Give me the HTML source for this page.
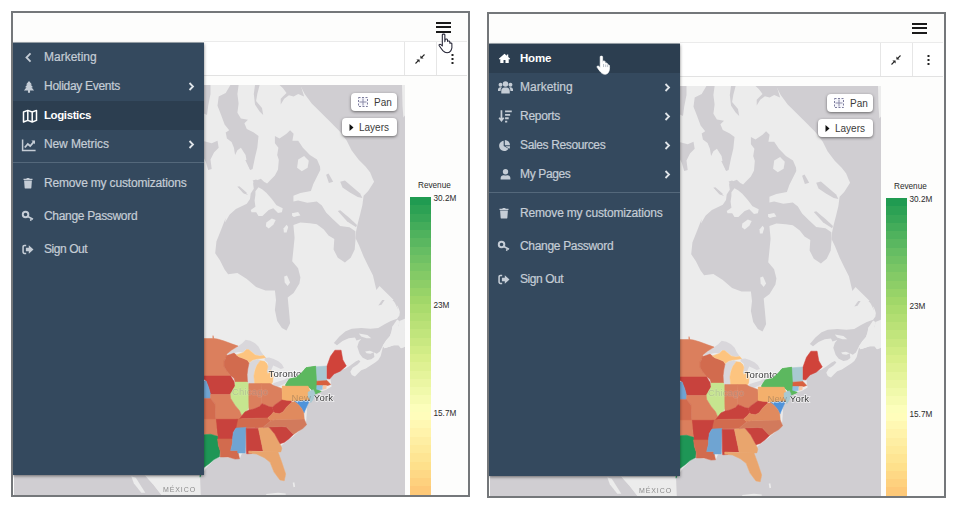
<!DOCTYPE html>
<html>
<head>
<meta charset="utf-8">
<title>Menu</title>
<style>
*{box-sizing:border-box;margin:0;padding:0}
html,body{width:961px;height:513px;background:#fff;overflow:hidden}
body{font-family:"Liberation Sans",sans-serif;position:relative}
.panel{position:absolute;width:459px;height:486px;border:2px solid #74777a;background:#fdfdfc;overflow:hidden}
#p1{left:11px;top:11px}
#p2{left:487px;top:12px}
.in{position:absolute;left:-13px;top:-13px;width:480px;height:500px}
.tb{position:absolute;left:204px;top:41px;width:263px;height:35px;border-top:1px solid #ebebeb;border-bottom:1px solid #e2e2e2;background:#fff}
.vs{position:absolute;top:42px;width:1px;height:33px;background:#e6e6e6}
.map{position:absolute;left:14px;top:85px;width:391px;height:412px;overflow:hidden;background:#cfcdd1}
.map svg{position:absolute;left:-14px;top:-85px;filter:blur(.35px)}
.side{position:absolute;left:13px;top:43px;width:191px;height:432px;background:#34495e;box-shadow:0 1px 3px rgba(0,0,0,.5),0 -1px 0 rgba(52,73,94,.45)}
.it{position:absolute;left:0;width:191px;height:29px;color:#c5cdd6;font-size:12px;line-height:29px;padding-left:31px;white-space:nowrap;-webkit-text-stroke:.2px #c5cdd6}
.it.sel{background:#2c3e50;color:#fff;font-weight:bold;font-size:11.5px;-webkit-text-stroke:0}
.it svg.ic{position:absolute;fill:currentColor;color:#c5cdd6}
.it.sel svg.ic{color:#fff}
.it .ar{position:absolute;left:175px;top:10px;width:7px;height:9px;color:#dfe4e9}
.sep{position:absolute;left:0;width:191px;height:1px;background:#54687b}
.btn{position:absolute;background:#fff;border-radius:4px;box-shadow:0 1px 3px rgba(0,0,0,.5);font-size:10px;color:#3a3a3a;line-height:19px;height:18px;white-space:nowrap}
.lg{position:absolute;font-size:8.200px;color:#2a2a2a;white-space:nowrap;line-height:10px}
.bar{position:absolute;left:410px;top:197px;width:21px;height:300px}
.ham{position:absolute;left:436px;top:21.800px;width:15px;height:13px}
.ham i{position:absolute;left:0;width:15px;height:2.3px;background:#1a1a1a}
.abs{position:absolute}
</style>
</head>
<body>
<svg width="0" height="0" style="position:absolute">
<defs>
<g id="mapg">
<rect x="0" y="80" width="420" height="430" fill="#ececec"/>
<path d="M230.4,85.1 238.6,85.1 237.4,94.0 238.6,103.4 237.4,112.7 240.9,118.6 248.0,119.8 244.4,123.3 246.8,129.1 253.8,132.6 258.5,136.1 257.3,147.8 255.0,157.2 252.6,168.9 250.3,170.1 246.8,161.9 245.6,154.9 240.9,147.8 237.4,150.2 235.1,154.9 233.9,147.8 231.6,142.0 226.9,138.5 225.7,132.6 229.2,130.3 224.6,124.4 221.1,115.1 217.5,105.7 218.7,96.4 225.7,92.9z" fill="#d0ced2" />
<path d="M202.3,85.1 210.5,85.1 210.5,94.0 208.2,105.7 207.0,115.1 202.3,112.7z" fill="#d0ced2" />
<path d="M202.3,140.8 211.7,143.2 217.5,140.8 218.7,147.8 214.0,152.5 210.5,159.5 211.7,168.9 208.2,170.1 205.8,161.9 202.3,154.9z" fill="#d0ced2" />
<path d="M255.0,85.1 259.6,85.1 257.3,94.0 256.1,101.1 262.0,108.1 263.2,115.1 259.6,111.6 255.0,104.6 253.8,94.0z" fill="#d0ced2" />
<path d="M279.5,85.1 300.6,85.1 304.1,96.4 298.2,94.0 293.6,96.4 288.9,95.2 284.2,98.7 280.7,104.6 280.7,98.7 286.5,92.9 283.0,88.2z" fill="#d0ced2" />
<path d="M237.4,186.4 243.3,189.9 248.0,195.1 243.3,193.2z" fill="#d0ced2" />
<path d="M274.9,136.1 279.5,138.5 286.5,133.8 290.1,130.3 293.6,133.8 292.4,140.8 298.2,140.8 302.9,147.8 309.9,154.9 317.0,159.5 320.0,166.5 320.3,170.0 316.8,177.0 313.3,184.0 310.9,191.1 300.4,192.9 293.4,195.7 293.4,201.6 298.1,200.4 307.4,202.7 316.8,201.6 321.9,205.6 326.1,212.6 333.2,219.6 340.2,226.1 349.5,227.3 355.4,231.3 355.6,238.3 354.7,249.5 350.7,257.7 344.9,262.4 337.8,257.7 333.6,249.5 334.3,239.0 328.5,235.5 323.8,229.6 316.8,224.3 309.8,223.3 300.4,222.6 293.4,225.0 294.6,237.8 293.4,249.5 292.2,261.2 298.1,268.2 300.4,277.6 299.4,283.6 293.6,292.9 287.7,297.6 288.9,310.0 290.1,323.3 286.5,330.4 281.9,328.0 277.2,321.0 274.9,310.0 276.0,299.9 274.9,290.6 265.5,290.6 256.1,287.1 246.8,278.9 237.4,273.0 228.1,274.2 224.6,269.5 219.9,260.2 215.2,253.2 216.4,241.5 221.1,229.8 225.7,218.1 225.0,222.4 229.7,214.6 235.9,209.1 240.6,206.8 246.8,203.7 250.0,199.0 250.7,193.5 253.8,188.8 253.1,183.4 253.8,181.1 257.0,180.3 260.9,178.7 264.0,181.8 267.1,183.4 270.2,180.3 274.9,175.6 278.0,169.4 278.8,160.0 279.5,161.9 277.2,154.9 278.4,147.8 274.9,143.2z" fill="#d0ced2" />
<path d="M252.6,180.6 256.1,179.4 262.0,182.9 267.8,185.3 264.3,189.9 258.5,188.1 255.7,184.8z" fill="#d0ced2" />
<path d="M245.3,160.0 247.1,160.0 251.8,168.6 250.0,169.7z" fill="#d0ced2" />
<path d="M237.5,186.8 239.3,186.2 246.8,192.7 245.0,193.7z" fill="#d0ced2" />
<path d="M337.8,210.9 340.2,210.2 349.5,218.0 357.0,225.0 356.1,227.3 347.2,221.5z" fill="#d0ced2" />
<path d="M340.2,181.7 344.9,180.5 351.9,186.4 360.1,193.4 362.4,198.1 357.7,196.9 349.5,192.2 342.5,187.5z" fill="#d0ced2" />
<path d="M326.1,174.7 328.5,173.5 333.2,181.7 328.9,182.9z" fill="#d0ced2" />
<path d="M300.0,85.1 304.7,94.0 311.7,103.4 321.1,112.7 330.4,122.1 339.8,131.5 346.8,140.8 351.5,150.2 358.5,159.5 365.5,166.5 370.2,172.4 372.5,178.2 374.1,181.7 368.2,191.1 363.6,195.7 362.4,205.1 360.1,214.4 357.7,223.8 356.1,231.3 355.6,238.3 358.9,244.9 363.6,256.5 368.2,265.9 372.9,275.3 376.4,290.0 379.5,285.9 388.9,295.3 395.9,302.3 398.2,310.0 393.6,300.0 398.2,307.0 400.6,314.0 404.8,316.4 410,316 410,80 300,80z" fill="#d0ced2" />
<path d="M333.9,342.9 339.4,336.6 345.6,331.2 351.8,328.8 361.2,328.1 370.5,328.8 378.3,328.1 384.6,324.2 390.8,321.1 397.1,318.7 399.4,315.6 400.2,309.4 397.1,304.7 392.4,300.0 404.9,300.0 404.9,318.7 399.4,321.1 398.6,326.5 392.4,326.5 391.6,331.2 390.0,335.9 386.1,340.5 383.0,345.2 379.9,351.5 376.8,353.8 373.7,352.2 374.4,356.9 371.3,359.3 367.4,360.0 362.7,357.7 359.6,353.8 357.3,346.8 358.8,342.1 361.2,339.0 356.5,340.5 355.0,337.4 348.7,338.2 342.5,340.9 337.0,345.2z" fill="#d0ced2" />
<path d="M378.3,305.5 381.5,304.7 384.6,300.0 382.2,300.0z" fill="#d0ced2" />
<path d="M404.9,328.1 404.9,346.8 401.0,348.3 398.6,345.2 393.9,345.2 389.3,346.8 384.6,348.3 383.0,346.8 380.7,356.1 378.3,360.0 375.2,362.4 370.5,365.5 365.9,368.6 361.2,370.2 358.1,373.3 355.0,376.4 351.8,374.9 350.3,371.7 352.6,367.8 357.3,364.7 360.4,361.6 358.8,360.0 355.7,361.6 350.3,365.5 345.6,368.6 340.9,369.9 334.7,372.0 330.0,374.5 330.4,379.5 331.6,386.5 325.7,390.1 316.4,392.4 309.4,398.2 307.0,407.6 303.5,420.0 307.1,407.8 306.2,421.4 301.3,429.2 293.5,436.0 285.7,441.9 279.9,446.8 277.9,452.6 281.8,462.3 285.7,474.0 283.8,480.8 279.9,479.9 274.0,472.1 270.1,462.3 264.3,457.5 256.5,453.6 248.7,452.6 241.9,453.6 239.9,458.4 233.1,458.4 227.3,457.5 219.5,456.5 213.6,460.4 207.8,466.2 201.9,474.0 12,478 12,500 410,500 410,328z" fill="#d0ced2" />
<path d="M358.8,333.5 367.4,335.1 371.3,338.2 366.6,338.2 361.2,336.6z" fill="#ececec" />
<path d="M298.2,159.5 304.1,156.0 308.8,160.7 307.6,167.7 301.8,171.2 297.1,167.7z" fill="#ececec" />
<path d="M255.4,191.2 258.5,187.3 262.4,189.6 266.3,192.7 271.8,199.0 276.5,205.2 282.7,208.3 281.9,212.2 278.0,213.0 273.3,208.3 268.7,209.9 262.4,216.1 258.5,216.1 256.2,212.2 251.5,212.2 250.7,209.9 255.4,206.8 254.6,200.5 255.4,195.1z" fill="#ececec" />
<path d="M266.3,222.4 271.8,218.5 275.7,220.0 273.3,224.7 268.7,228.6 265.9,226.3z" fill="#ececec" />
<path d="M283.5,228.6 286.6,224.7 288.2,227.1 286.6,232.5 283.9,232.5z" fill="#ececec" />
<path d="M292.1,213.0 296.0,213.8 295.2,216.9 292.1,216.1z" fill="#ececec" />
<path d="M292.2,213.3 298.1,212.1 300.4,215.6 293.4,216.8z" fill="#ececec" />
<path d="M284.2,276.5 287.0,275.4 290.1,282.4 287.7,285.9 284.7,282.4z" fill="#ececec" />
<path d="M402.0,85.1 405.3,85.1 405.3,115.1 403.4,117.4 402.5,105.7z" fill="#ececec" />
<path d="M392.4,326.5 397.1,319.5 399.4,321.1 398.6,326.5 404.9,328.1 404.9,346.8 401.0,348.3 398.6,345.2 393.9,345.2 389.3,346.8 384.6,348.3 383.0,345.2 386.1,340.5 390.0,335.9 391.6,331.2z" fill="#ececec" />
<path d="M365.1,351.5 369.8,350.7 373.7,352.2 370.5,353.8 366.6,353.3z" fill="#ececec" />
<path d="M145.0,475.8 200.0,475.8 200.8,495.8 161.7,495.8 153.3,485.0z" fill="#ececec" />
<path d="M266.2,493.9 277.9,492.7 285.7,493.5 285.7,494.7 266.2,495.1z" fill="#ececec" />
<path d="M292.7,482.8 294.3,482.2 295.1,486.7 293.5,487.3z" fill="#ececec" />
<path d="M227.0,353.7 231.7,350.2 237.5,346.7 242.2,343.2 245.7,339.7 250.4,340.8 255.1,343.2 258.6,346.7 260.9,351.4 263.5,355.1 259.7,355.8 255.1,354.6 251.6,351.6 248.1,349.0 245.7,349.6 243.4,352.3 238.7,351.9 234.0,353.1 229.9,354.6z" fill="#d9d7db" />
<path d="M249.0,363.1 252.7,360.5 257.4,359.3 260.6,360.1 258.6,363.1 256.5,365.4 254.7,370.1 253.9,375.9 254.5,381.8 253.5,386.7 249.2,386.7 247.5,381.8 247.1,374.7 247.8,368.9z" fill="#d9d7db" />
<path d="M265.0,358.1 269.1,357.6 273.8,359.0 278.4,361.3 281.9,364.2 284.0,368.0 280.8,369.1 276.1,366.8 273.2,365.6 271.4,369.5 273.2,375.9 272.8,381.8 270.8,384.1 272.4,373.6 270.0,370.1 267.9,374.2 266.8,371.2 268.2,366.6 267.7,362.8 264.4,360.1z" fill="#d9d7db" />
<path d="M269.7,387.0 273.8,382.9 278.4,381.5 284.3,379.8 289.2,377.3 290.4,379.4 287.8,382.0 283.7,384.3 278.4,386.7 273.2,388.5 270.5,388.5z" fill="#d9d7db" />
<path d="M289.0,375.7 294.8,373.6 300.6,372.6 304.2,373.6 301.8,375.9 296.0,376.8 291.3,377.3z" fill="#d9d7db" />
<rect x="12" y="474" width="133" height="24" fill="#d0ced2"/>
<path d="M135.8,475.8 145.0,475.8 153.3,485.0 161.7,495.8 145.0,495.8 141.7,492.5 145.0,492.5 135.8,478.0z" fill="#d0ced2" />
<path d="M131.3,476.3 135.8,477.7 145.3,492.8 141.3,492.8 133.8,483.3z" fill="#ececec" />
<g><path d="M203.6,338.5 212.8,338.5 213.0,335.6 213.8,338.5 217.5,339.0 223.5,340.8 231.7,343.8 238.1,346.1 231.7,350.0 227.0,353.7 225.8,358.4 224.1,360.7 224.1,366.6 227.0,371.2 231.1,375.9 203.6,375.9z" fill="#db7f5d" stroke="#db7f5d" stroke-width=".5" stroke-linejoin="round"/>
<path d="M226.4,355.5 229.9,354.6 234.0,353.1 236.4,355.1 238.7,356.9 243.4,358.6 247.5,360.5 249.0,363.1 247.8,368.9 247.1,374.7 247.5,382.0 235.2,382.0 234.0,378.2 231.1,375.9 227.0,371.2 224.1,366.6 224.1,360.7 225.8,358.4z" fill="#d26b4e" stroke="#d26b4e" stroke-width=".5" stroke-linejoin="round"/>
<path d="M200.0,376.0 230.7,376.0 234.2,381.8 235.1,386.1 232.5,390.5 230.7,394.4 210.5,394.4 208.8,387.9 206.1,380.9z" fill="#c8423d" stroke="#c8423d" stroke-width=".5" stroke-linejoin="round"/>
<path d="M200.0,380.9 206.1,380.9 208.8,387.9 210.5,394.4 210.5,398.4 200.0,398.4z" fill="#6fa4d2" stroke="#6fa4d2" stroke-width=".5" stroke-linejoin="round"/>
<path d="M235.1,382.1 247.4,382.1 249.5,386.5 250.0,400.2 249.1,407.2 245.6,412.5 242.1,416.0 239.5,410.7 235.1,405.4 230.7,398.4 230.2,394.4 232.5,390.5 235.1,386.1z" fill="#c6e58f" stroke="#c6e58f" stroke-width=".5" stroke-linejoin="round"/>
<path d="M260.3,360.7 264.4,361.3 266.8,363.6 267.9,366.6 266.8,371.2 267.9,374.2 270.3,370.1 272.0,371.2 273.2,375.9 272.6,381.8 270.3,386.7 254.8,386.7 254.5,381.8 253.9,375.9 255.1,370.1 256.8,365.4 258.6,363.1z" fill="#fdc47f" stroke="#fdc47f" stroke-width=".5" stroke-linejoin="round"/>
<path d="M236.4,354.9 243.4,352.5 246.3,349.6 248.6,349.6 251.6,351.9 255.1,354.9 259.7,356.0 263.8,355.5 265.6,357.8 260.9,358.4 256.2,359.0 252.7,360.1 249.2,362.5 247.5,360.1 243.4,358.4 238.7,356.6z" fill="#fdc47f" stroke="#fdc47f" stroke-width=".5" stroke-linejoin="round"/>
<path d="M248.8,383.6 261.3,383.6 261.7,396.7 261.9,403.7 259.6,406.6 253.7,409.0 249.0,410.1 248.8,401.4z" fill="#db7f5d" stroke="#db7f5d" stroke-width=".5" stroke-linejoin="round"/>
<path d="M261.3,383.6 270.1,383.6 273.6,385.6 281.8,388.5 282.4,399.6 278.3,402.5 274.8,404.9 272.4,407.2 268.9,406.6 265.4,404.9 261.9,403.7 261.7,396.7z" fill="#db7f5d" stroke="#db7f5d" stroke-width=".5" stroke-linejoin="round"/>
<path d="M210.5,394.4 230.2,394.4 230.7,398.4 235.1,405.4 239.5,410.7 241.8,416.0 241.4,420.0 242.1,424.7 237.7,428.2 215.8,428.2 214.9,403.7 210.5,398.4z" fill="#db7f5d" stroke="#db7f5d" stroke-width=".5" stroke-linejoin="round"/>
<path d="M200.0,398.4 210.5,398.4 214.9,403.7 215.8,428.2 200.0,428.2z" fill="#d26b4e" stroke="#d26b4e" stroke-width=".5" stroke-linejoin="round"/>
<path d="M242.0,415.6 244.9,411.9 249.0,410.1 253.7,409.0 259.6,406.6 261.9,403.7 265.4,404.9 268.9,406.6 272.4,407.2 273.6,411.9 271.3,414.8 267.7,417.9 242.0,418.5 239.4,419.2z" fill="#c8423d" stroke="#c8423d" stroke-width=".5" stroke-linejoin="round"/>
<path d="M236.2,419.2 242.0,418.5 267.7,417.9 270.1,420.3 275.9,419.5 270.1,421.5 264.2,426.2 263.1,427.8 234.4,428.0z" fill="#d26b4e" stroke="#d26b4e" stroke-width=".5" stroke-linejoin="round"/>
<path d="M215.8,419.3 237.7,419.3 236.0,427.5 233.3,432.5 232.5,438.9 217.5,438.9 216.7,429.8z" fill="#c8423d" stroke="#c8423d" stroke-width=".5" stroke-linejoin="round"/>
<path d="M200.0,419.3 215.8,419.3 216.7,429.8 217.5,436.3 210.5,434.2 200.0,435.1z" fill="#db7f5d" stroke="#db7f5d" stroke-width=".5" stroke-linejoin="round"/>
<path d="M200.0,435.1 210.5,434.2 217.5,436.3 218.4,445.6 220.2,450.9 219.6,456.5 214.0,459.6 208.8,464.0 203.9,467.5 200.0,477.2z" fill="#1e9656" stroke="#1e9656" stroke-width=".5" stroke-linejoin="round"/>
<path d="M217.5,438.9 232.5,438.9 232.5,443.0 230.7,450.4 237.7,450.4 239.5,458.8 235.1,459.1 228.1,457.0 220.2,457.0 220.2,450.9 218.4,445.6z" fill="#d26b4e" stroke="#d26b4e" stroke-width=".5" stroke-linejoin="round"/>
<path d="M236.0,428.1 246.0,427.4 245.3,453.0 237.7,453.0 237.7,450.4 230.7,450.4 232.5,443.0 232.5,438.9 233.3,432.5z" fill="#6fa4d2" stroke="#6fa4d2" stroke-width=".5" stroke-linejoin="round"/>
<path d="M246.1,428.3 258.4,428.3 262.1,445.8 263.1,451.1 251.4,451.1 252.0,453.5 246.7,453.8 246.3,451.1z" fill="#c8423d" stroke="#c8423d" stroke-width=".5" stroke-linejoin="round"/>
<path d="M258.4,428.3 268.9,427.2 274.8,434.1 280.0,443.7 281.8,448.2 280.8,451.9 263.7,451.7 263.1,451.1 262.1,445.8z" fill="#e9a56d" stroke="#e9a56d" stroke-width=".5" stroke-linejoin="round"/>
<path d="M268.9,427.1 281.8,426.5 286.5,427.1 293.5,434.4 288.8,439.0 284.1,442.5 280.0,443.7 274.8,434.1z" fill="#c8423d" stroke="#c8423d" stroke-width=".5" stroke-linejoin="round"/>
<path d="M263.1,427.8 264.2,426.2 270.1,421.5 275.9,419.5 304.2,418.9 306.6,424.8 302.8,428.5 298.2,431.3 293.5,434.4 286.5,427.1 281.8,426.5 270.1,426.9z" fill="#d27a5c" stroke="#d27a5c" stroke-width=".5" stroke-linejoin="round"/>
<path d="M248.7,451.0 261.4,451.6 277.9,451.8 281.8,462.3 285.7,474.0 284.2,480.8 279.9,479.9 274.0,472.1 270.1,462.3 264.3,457.7 256.5,454.0 248.7,453.2z" fill="#e9a56d" stroke="#e9a56d" stroke-width=".5" stroke-linejoin="round"/>
<path d="M285.8,384.4 289.3,379.1 296.3,377.4 302.5,372.1 306.0,367.7 315.6,366.3 316.5,380.9 316.0,389.6 321.2,391.4 314.7,394.2 312.1,390.0 307.7,386.1 285.8,386.1z" fill="#5cb85f" stroke="#5cb85f" stroke-width=".5" stroke-linejoin="round"/>
<path d="M282.4,386.2 308.1,386.2 309.9,392.0 308.1,396.7 309.9,399.6 293.5,400.8 286.5,400.2 282.4,399.6z" fill="#f4b06c" stroke="#f4b06c" stroke-width=".5" stroke-linejoin="round"/>
<path d="M316.0,366.8 326.5,366.0 326.8,380.4 316.0,381.1z" fill="#a9c9d2" stroke="#a9c9d2" stroke-width=".5" stroke-linejoin="round"/>
<path d="M327.0,366.0 330.5,356.3 334.9,350.2 341.1,350.2 342.8,359.8 346.3,366.0 340.2,371.2 334.0,373.9 329.6,379.1 327.0,378.6z" fill="#d0433a" stroke="#d0433a" stroke-width=".5" stroke-linejoin="round"/>
<path d="M316.0,381.2 327.0,380.5 330.7,384.4 327.9,385.4 316.0,385.4z" fill="#d9603f" stroke="#d9603f" stroke-width=".5" stroke-linejoin="round"/>
<path d="M316.0,385.6 322.6,385.6 322.3,389.6 316.0,390.2z" fill="#8ec0e2" stroke="#8ec0e2" stroke-width=".5" stroke-linejoin="round"/>
<path d="M323.0,385.6 326.5,385.6 326.1,388.8 323.0,389.3z" fill="#f7c8a8" stroke="#f7c8a8" stroke-width=".5" stroke-linejoin="round"/>
<path d="M308.1,392.0 313.4,389.7 315.0,393.2 312.8,399.6 310.8,402.5 309.9,399.6 308.1,396.7z" fill="#a9c9d2" stroke="#a9c9d2" stroke-width=".5" stroke-linejoin="round"/>
<path d="M293.5,400.8 309.9,399.6 307.5,404.9 305.2,410.1 304.0,413.1 301.7,408.4 298.7,404.9 295.8,402.5z" fill="#4f93da" stroke="#4f93da" stroke-width=".5" stroke-linejoin="round"/>
<path d="M272.4,407.2 274.8,404.9 278.3,402.5 282.4,399.6 286.5,400.2 293.5,400.8 290.0,403.7 286.5,407.2 283.0,411.9 279.4,413.7 274.8,413.1 273.6,411.9z" fill="#c8423d" stroke="#c8423d" stroke-width=".5" stroke-linejoin="round"/>
<path d="M267.7,417.9 271.3,414.8 273.6,411.9 274.8,413.1 279.4,413.7 283.0,411.9 286.5,407.2 290.0,403.7 293.5,401.0 295.8,402.5 298.7,404.9 301.7,408.4 303.8,413.1 304.2,418.9 275.9,419.5 270.1,420.3z" fill="#e08a5e" stroke="#e08a5e" stroke-width=".5" stroke-linejoin="round"/></g>
<g font-family="Liberation Sans, sans-serif" font-size="9.500" fill="#3a3a3a" stroke="#fff" stroke-width="1.6" paint-order="stroke" stroke-opacity=".7" letter-spacing=".2">
<text x="268.500" y="376.500">Toronto</text>
<text x="291.500" y="400.500">New York</text>
</g>
<path d="M285.8,384.4 289.3,379.1 296.3,377.4 302.5,372.1 306.0,367.7 315.6,366.3 316.5,380.9 316.0,389.6 321.2,391.4 314.7,394.2 312.1,390.0 307.7,386.1 285.8,386.1z" fill="#5cb85f" stroke="#5cb85f" stroke-width=".5" stroke-linejoin="round"/>
<path d="M282.4,386.2 308.1,386.2 309.9,392.0 308.1,396.7 309.9,399.6 293.5,400.8 286.5,400.2 282.4,399.6z" fill="#f4b06c" stroke="#f4b06c" stroke-width=".5" stroke-linejoin="round"/>
<path d="M308.1,392.0 313.4,389.7 315.0,393.2 312.8,399.6 310.8,402.5 309.9,399.6 308.1,396.7z" fill="#a9c9d2" stroke="#a9c9d2" stroke-width=".5" stroke-linejoin="round"/>
<g font-family="Liberation Sans, sans-serif" font-size="9.500" letter-spacing=".2"><text x="232" y="394.500" fill="#777" fill-opacity=".3" stroke="#fff" stroke-opacity=".12" stroke-width="1.2" paint-order="stroke">Chicago</text><text x="291.500" y="400.500" fill="#444" fill-opacity=".3">New</text></g>
<text x="163" y="492" font-family="Liberation Sans, sans-serif" font-size="7" fill="#8c8c8c" letter-spacing=".9">MÉXICO</text>
</g>
</defs>
</svg>

<div class="panel" id="p1"><div class="in">
  <div class="tb"></div><div class="vs" style="left:404px"></div><div class="vs" style="left:436px"></div>
  <div class="map"><svg width="480" height="500" viewBox="0 0 480 500"><use href="#mapg"/></svg></div>
  <div class="ham"><i style="top:0"></i><i style="top:4.200px"></i><i style="top:9.200px"></i></div>
  <svg class="abs" style="left:414px;top:53px" width="12" height="12" viewBox="0 0 12 12"><path d="M1.500 10.500 4.800 7.200M10.500 1.500 7.200 4.800" stroke="#222" stroke-width="1.100" fill="none"/><path d="M5.600 6.400v3.200L2.400 6.400zM6.400 5.600V2.400l3.200 3.200z" fill="#222"/></svg>
  <svg class="abs" style="left:451px;top:53px" width="3" height="12" viewBox="0 0 3 12"><rect x=".5" y="1" width="2" height="2" fill="#222"/><rect x=".5" y="5" width="2" height="2" fill="#222"/><rect x=".5" y="9" width="2" height="2" fill="#222"/></svg>
  <div class="btn" style="left:351px;top:93px;width:46px;padding-left:23px">Pan<svg class="abs" style="left:7px;top:4px" width="10" height="10" viewBox="0 0 10 10"><rect x=".5" y=".5" width="9" height="9" fill="#f6f6fb" stroke="#7c7c9c" stroke-width="1" stroke-dasharray="2 1.500"/><path d="M5 1.500v7M1.500 5h7" stroke="#8a8aa8" stroke-width="1"/></svg></div>
  <div class="btn" style="left:342px;top:118px;width:55px;padding-left:17px">Layers<svg class="abs" style="left:7px;top:6px" width="5" height="7" viewBox="0 0 5 7"><path d="M.5 0 4.500 3.500.5 7z" fill="#111"/></svg></div>
  <div class="lg" style="left:418px;top:181px">Revenue</div>
  <div class="lg" style="left:433.500px;top:193.500px">30.2M</div>
  <div class="lg" style="left:433.500px;top:301px">23M</div>
  <div class="lg" style="left:433.500px;top:408.500px">15.7M</div>
  <div class="bar" style="background:linear-gradient(to bottom,#209b51 0.0px,#209b51 8.3px,#2ca154 8.3px,#2ca154 16.5px,#37a657 16.5px,#37a657 24.8px,#43ac5a 24.8px,#43ac5a 33.1px,#4fb25d 33.1px,#4fb25d 41.3px,#5ab760 41.3px,#5ab760 49.6px,#66bd63 49.6px,#66bd63 57.9px,#70c164 57.9px,#70c164 66.2px,#7ac665 66.2px,#7ac665 74.4px,#84ca66 74.4px,#84ca66 82.7px,#8dce67 82.7px,#8dce67 91.0px,#97d368 91.0px,#97d368 99.2px,#a1d769 99.2px,#a1d769 107.5px,#aadb6d 107.5px,#aadb6d 115.8px,#b2de72 115.8px,#b2de72 124.0px,#bae177 124.0px,#bae177 132.3px,#c1e57c 132.3px,#c1e57c 140.6px,#c9e881 140.6px,#c9e881 148.8px,#d1ec86 148.8px,#d1ec86 157.1px,#d9ef8b 157.1px,#d9ef8b 165.4px,#dff193 165.4px,#dff193 173.7px,#e5f49b 173.7px,#e5f49b 181.9px,#ebf6a3 181.9px,#ebf6a3 190.2px,#f0f9ab 190.2px,#f0f9ab 198.5px,#f6fbb3 198.5px,#f6fbb3 206.7px,#fcfebb 206.7px,#fcfebb 215.0px,#fffdbb 215.0px,#fffdbb 223.3px,#fff8b3 223.3px,#fff8b3 231.5px,#fff3ab 231.5px,#fff3ab 239.8px,#feeea3 239.8px,#feeea3 248.1px,#feea9b 248.1px,#feea9b 256.3px,#fee593 256.3px,#fee593 264.6px,#fee08b 264.6px,#fee08b 272.9px,#fed885 272.9px,#fed885 281.2px,#fed17e 281.2px,#fed17e 289.4px,#fec978 289.4px,#fec978 297.7px,#fdc171 297.7px,#fdc171 300.0px)"></div>

  <div class="side">
    <div class="it" style="top:0px;letter-spacing:0px"><svg class="ic" viewBox="0 0 16 16" style="width:13px;height:13px;left:9px;top:8px"><path d="M10.5 3 5.5 8l5 5" fill="none" stroke="currentColor" stroke-width="2.2"/></svg>Marketing</div>
    <div class="it" style="top:29px;letter-spacing:-0.29px"><svg class="ic" viewBox="0 0 16 16" style="width:14px;height:14px;left:9px;top:7.5px"><path d="M8 1 4.6 5h1.6L3.4 8.4h1.8L2.2 12h4.6v2.6h2.4V12h4.6l-3-3.6h1.8L9.8 5h1.6z"/></svg>Holiday Events<svg class="ar" viewBox="0 0 7 9"><path d="M1.500 1 5 4.500 1.500 8" fill="none" stroke="currentColor" stroke-width="1.800"/></svg></div>
    <div class="it sel" style="top:58px;letter-spacing:-0.4px"><svg class="ic" viewBox="0 0 16 16" style="width:16px;height:16px;left:8.5px;top:6.5px"><path d="M1.5 4 5.8 2.4 10.2 4l4.3-1.6v10L10.2 14 5.8 12.4 1.5 14zM5.8 2.4v10M10.2 4v10" fill="none" stroke="currentColor" stroke-width="1.5" stroke-linejoin="round"/></svg>Logistics</div>
    <div class="it" style="top:87px;letter-spacing:-0.11px"><svg class="ic" viewBox="0 0 16 16" style="width:16px;height:16px;left:8px;top:7px"><path d="M1.6 2.5v11h13" fill="none" stroke="currentColor" stroke-width="1.5"/><path d="M3.8 10.5 6.8 7l2.4 2 4-4.6" fill="none" stroke="currentColor" stroke-width="1.8"/><path d="M10.4 3.6h3.6v3.6z"/></svg>New Metrics<svg class="ar" viewBox="0 0 7 9"><path d="M1.500 1 5 4.500 1.500 8" fill="none" stroke="currentColor" stroke-width="1.800"/></svg></div>
    <div class="sep" style="top:119px"></div>
    <div class="it" style="top:126px;letter-spacing:-0.175px"><svg class="ic" viewBox="0 0 16 16" style="width:12px;height:12px;left:9px;top:7.5px"><path d="M2.800 4.800h10.400l-.7 9.400c0 .7-.6 1.200-1.300 1.200H4.800c-.7 0-1.300-.5-1.300-1.200zM2 2.400H5.800l.6-1.200h3.200l.6 1.200H14V4H2z"/></svg>Remove my customizations</div>
    <div class="it" style="top:159px;letter-spacing:-0.32px"><svg class="ic" viewBox="0 0 16 16" style="width:13px;height:13px;left:7.5px;top:8px"><path d="M5.600 1a4.600 4.600 0 1 0 0 9.200 4.600 4.600 0 0 0 0-9.200zm0 2.400a2.200 2.200 0 1 1 0 4.400 2.200 2.200 0 0 1 0-4.400z" fill-rule="evenodd"/><path d="M8.800 7.200 15.200 10.600 14.400 12.400 13.300 11.800 12.500 13.800 10.900 13 11.600 10.900 7.900 9z"/></svg>Change Password</div>
    <div class="it" style="top:192px;letter-spacing:-0.44px"><svg class="ic" viewBox="0 0 16 16" style="width:13px;height:13px;left:8px;top:8px"><path d="M6.400 2.200H4.200C2.700 2.200 1.600 3.300 1.600 4.800v6.400c0 1.500 1.100 2.600 2.600 2.600h2.200v-1.900H4.400c-.5 0-.9-.4-.9-.9V5c0-.5.400-.9.900-.9h2z"/><path d="M9.600 2.800 15.400 8l-5.800 5.200v-3H6V5.800h3.600z"/></svg>Sign Out</div>
  </div>
  <svg class="abs" style="left:437px;top:32.500px" width="17" height="21.500" viewBox="0 0 16 20"><path d="M5 1.500c0-.8 2.400-.8 2.400 0v6.500l.3-2c.2-.7 2-.6 2.100.1l.2 1.800c.1-.6 1.900-.6 2 .1l.2 1.700c.1-.5 1.700-.5 1.800.2.300 2.500.1 5-.9 6.600-.8 1.300-2 2-3.600 2-1.600 0-2.800-.8-4-2.100-1.200-1.400-2.700-3.400-3.500-4.700-.5-.9.900-1.800 1.700-.9L5 12z" fill="#fff" stroke="#223" stroke-width="1" stroke-linejoin="round"/></svg>

</div></div>

<div class="panel" id="p2"><div class="in">
  <div class="tb"></div><div class="vs" style="left:404px"></div><div class="vs" style="left:436px"></div>
  <div class="map"><svg width="480" height="500" viewBox="0 0 480 500"><use href="#mapg"/></svg></div>
  <div class="ham"><i style="top:0"></i><i style="top:4.200px"></i><i style="top:9.200px"></i></div>
  <svg class="abs" style="left:414px;top:53px" width="12" height="12" viewBox="0 0 12 12"><path d="M1.500 10.500 4.800 7.200M10.500 1.500 7.200 4.800" stroke="#222" stroke-width="1.100" fill="none"/><path d="M5.600 6.400v3.200L2.400 6.400zM6.400 5.600V2.400l3.200 3.200z" fill="#222"/></svg>
  <svg class="abs" style="left:451px;top:53px" width="3" height="12" viewBox="0 0 3 12"><rect x=".5" y="1" width="2" height="2" fill="#222"/><rect x=".5" y="5" width="2" height="2" fill="#222"/><rect x=".5" y="9" width="2" height="2" fill="#222"/></svg>
  <div class="btn" style="left:351px;top:93px;width:46px;padding-left:23px">Pan<svg class="abs" style="left:7px;top:4px" width="10" height="10" viewBox="0 0 10 10"><rect x=".5" y=".5" width="9" height="9" fill="#f6f6fb" stroke="#7c7c9c" stroke-width="1" stroke-dasharray="2 1.500"/><path d="M5 1.500v7M1.500 5h7" stroke="#8a8aa8" stroke-width="1"/></svg></div>
  <div class="btn" style="left:342px;top:118px;width:55px;padding-left:17px">Layers<svg class="abs" style="left:7px;top:6px" width="5" height="7" viewBox="0 0 5 7"><path d="M.5 0 4.500 3.500.5 7z" fill="#111"/></svg></div>
  <div class="lg" style="left:418px;top:181px">Revenue</div>
  <div class="lg" style="left:433.500px;top:193.500px">30.2M</div>
  <div class="lg" style="left:433.500px;top:301px">23M</div>
  <div class="lg" style="left:433.500px;top:408.500px">15.7M</div>
  <div class="bar" style="background:linear-gradient(to bottom,#209b51 0.0px,#209b51 8.3px,#2ca154 8.3px,#2ca154 16.5px,#37a657 16.5px,#37a657 24.8px,#43ac5a 24.8px,#43ac5a 33.1px,#4fb25d 33.1px,#4fb25d 41.3px,#5ab760 41.3px,#5ab760 49.6px,#66bd63 49.6px,#66bd63 57.9px,#70c164 57.9px,#70c164 66.2px,#7ac665 66.2px,#7ac665 74.4px,#84ca66 74.4px,#84ca66 82.7px,#8dce67 82.7px,#8dce67 91.0px,#97d368 91.0px,#97d368 99.2px,#a1d769 99.2px,#a1d769 107.5px,#aadb6d 107.5px,#aadb6d 115.8px,#b2de72 115.8px,#b2de72 124.0px,#bae177 124.0px,#bae177 132.3px,#c1e57c 132.3px,#c1e57c 140.6px,#c9e881 140.6px,#c9e881 148.8px,#d1ec86 148.8px,#d1ec86 157.1px,#d9ef8b 157.1px,#d9ef8b 165.4px,#dff193 165.4px,#dff193 173.7px,#e5f49b 173.7px,#e5f49b 181.9px,#ebf6a3 181.9px,#ebf6a3 190.2px,#f0f9ab 190.2px,#f0f9ab 198.5px,#f6fbb3 198.5px,#f6fbb3 206.7px,#fcfebb 206.7px,#fcfebb 215.0px,#fffdbb 215.0px,#fffdbb 223.3px,#fff8b3 223.3px,#fff8b3 231.5px,#fff3ab 231.5px,#fff3ab 239.8px,#feeea3 239.8px,#feeea3 248.1px,#feea9b 248.1px,#feea9b 256.3px,#fee593 256.3px,#fee593 264.6px,#fee08b 264.6px,#fee08b 272.9px,#fed885 272.9px,#fed885 281.2px,#fed17e 281.2px,#fed17e 289.4px,#fec978 289.4px,#fec978 297.7px,#fdc171 297.7px,#fdc171 300.0px)"></div>

  <div class="side">
    <div class="it sel" style="top:0px;letter-spacing:-0.2px"><svg class="ic" viewBox="0 0 16 16" style="width:13px;height:13px;left:9px;top:8px"><path d="M8 2.200 1 8.300l.9 1 .9-.8v5h4v-3.600h2.400v3.600h4v-5l.9.800.9-1-2.400-2.100V3h-1.700v1.700z"/></svg>Home</div>
    <div class="it" style="top:29px;letter-spacing:0px"><svg class="ic" viewBox="0 0 16 16" style="width:15px;height:15px;left:8.5px;top:6.5px"><circle cx="8" cy="4.300" r="2.900"/><circle cx="2.700" cy="5" r="2.100"/><circle cx="13.300" cy="5" r="2.100"/><path d="M3.500 14.400v-3c0-1.900 1.500-3.300 3.300-3.300h2.400c1.800 0 3.300 1.400 3.300 3.300v3zM0 11.800v-1.600C0 8.800 1.100 7.700 2.500 7.700h1.700c-.9.900-1.400 2.200-1.400 3.600v.5zM16 11.800v-1.600c0-1.400-1.100-2.500-2.500-2.500h-1.700c.9.900 1.400 2.200 1.400 3.600v.5z"/></svg>Marketing<svg class="ar" viewBox="0 0 7 9"><path d="M1.500 1 5 4.500 1.500 8" fill="none" stroke="currentColor" stroke-width="1.800"/></svg></div>
    <div class="it" style="top:58px;letter-spacing:-0.29px"><svg class="ic" viewBox="0 0 16 16" style="width:14.5px;height:14.5px;left:9px;top:7px"><path d="M3.800 1.400v11M1.300 9.600l2.500 3.200 2.500-3.200" fill="none" stroke="currentColor" stroke-width="1.900"/><path d="M7.800 1.600h7.400v2H7.800zM7.800 5.400h5.600v2H7.800zM7.800 9.200h4v2h-4zM7.800 13h2.400v2H7.800z"/></svg>Reports<svg class="ar" viewBox="0 0 7 9"><path d="M1.500 1 5 4.500 1.500 8" fill="none" stroke="currentColor" stroke-width="1.800"/></svg></div>
    <div class="it" style="top:87px;letter-spacing:-0.36px"><svg class="ic" viewBox="0 0 16 16" style="width:13px;height:13px;left:9px;top:8px"><path d="M7 2.200A6.300 6.300 0 1 0 12.900 12L7 8.700z"/><path d="M8.400 1.200v6.500h6.400A6.400 6.400 0 0 0 8.400 1.200zM9 8.900l5 3.200c.5-.9.800-2 .8-3.200z"/></svg>Sales Resources<svg class="ar" viewBox="0 0 7 9"><path d="M1.500 1 5 4.500 1.500 8" fill="none" stroke="currentColor" stroke-width="1.800"/></svg></div>
    <div class="it" style="top:116px;letter-spacing:-0.36px"><svg class="ic" viewBox="0 0 16 16" style="width:13px;height:13px;left:9.5px;top:8px"><circle cx="8" cy="4.600" r="3.300"/><path d="M2 14.300v-1.800c0-2 1.600-3.600 3.600-3.600h.6c.6.300 1.200.4 1.800.4s1.200-.1 1.800-.4h.6c2 0 3.600 1.600 3.600 3.600v1.800z"/></svg>My Pages<svg class="ar" viewBox="0 0 7 9"><path d="M1.500 1 5 4.500 1.500 8" fill="none" stroke="currentColor" stroke-width="1.800"/></svg></div>
    <div class="sep" style="top:148px"></div>
    <div class="it" style="top:155px;letter-spacing:-0.175px"><svg class="ic" viewBox="0 0 16 16" style="width:12px;height:12px;left:9px;top:7.5px"><path d="M2.800 4.800h10.400l-.7 9.400c0 .7-.6 1.200-1.300 1.200H4.800c-.7 0-1.300-.5-1.300-1.200zM2 2.400H5.800l.6-1.200h3.200l.6 1.200H14V4H2z"/></svg>Remove my customizations</div>
    <div class="it" style="top:188px;letter-spacing:-0.32px"><svg class="ic" viewBox="0 0 16 16" style="width:13px;height:13px;left:7.5px;top:8px"><path d="M5.600 1a4.600 4.600 0 1 0 0 9.200 4.600 4.600 0 0 0 0-9.200zm0 2.400a2.200 2.200 0 1 1 0 4.400 2.200 2.200 0 0 1 0-4.400z" fill-rule="evenodd"/><path d="M8.800 7.200 15.200 10.600 14.400 12.400 13.300 11.800 12.500 13.800 10.900 13 11.600 10.900 7.900 9z"/></svg>Change Password</div>
    <div class="it" style="top:221px;letter-spacing:-0.44px"><svg class="ic" viewBox="0 0 16 16" style="width:13px;height:13px;left:8px;top:8px"><path d="M6.400 2.200H4.200C2.700 2.200 1.600 3.300 1.600 4.800v6.400c0 1.500 1.100 2.600 2.600 2.600h2.200v-1.900H4.400c-.5 0-.9-.4-.9-.9V5c0-.5.400-.9.900-.9h2z"/><path d="M9.600 2.800 15.400 8l-5.800 5.200v-3H6V5.800h3.600z"/></svg>Sign Out</div>
  </div>
  <svg class="abs" style="left:119px;top:54px" width="16.500" height="21" viewBox="0 0 16 20"><path d="M5 1.500c0-.8 2.400-.8 2.400 0v6.500l.3-2c.2-.7 2-.6 2.100.1l.2 1.800c.1-.6 1.900-.6 2 .1l.2 1.700c.1-.5 1.700-.5 1.800.2.300 2.500.1 5-.9 6.600-.8 1.300-2 2-3.600 2-1.600 0-2.800-.8-4-2.100-1.200-1.400-2.700-3.400-3.500-4.700-.5-.9.900-1.800 1.700-.9L5 12z" fill="#fff" stroke="#fff" stroke-width=".6" stroke-linejoin="round"/><path d="M8.300 8.500v3M10.400 9v2.500M12.300 9.500v2" stroke="#9aa5b0" stroke-width=".7" fill="none"/></svg>

</div></div>
</body>
</html>
